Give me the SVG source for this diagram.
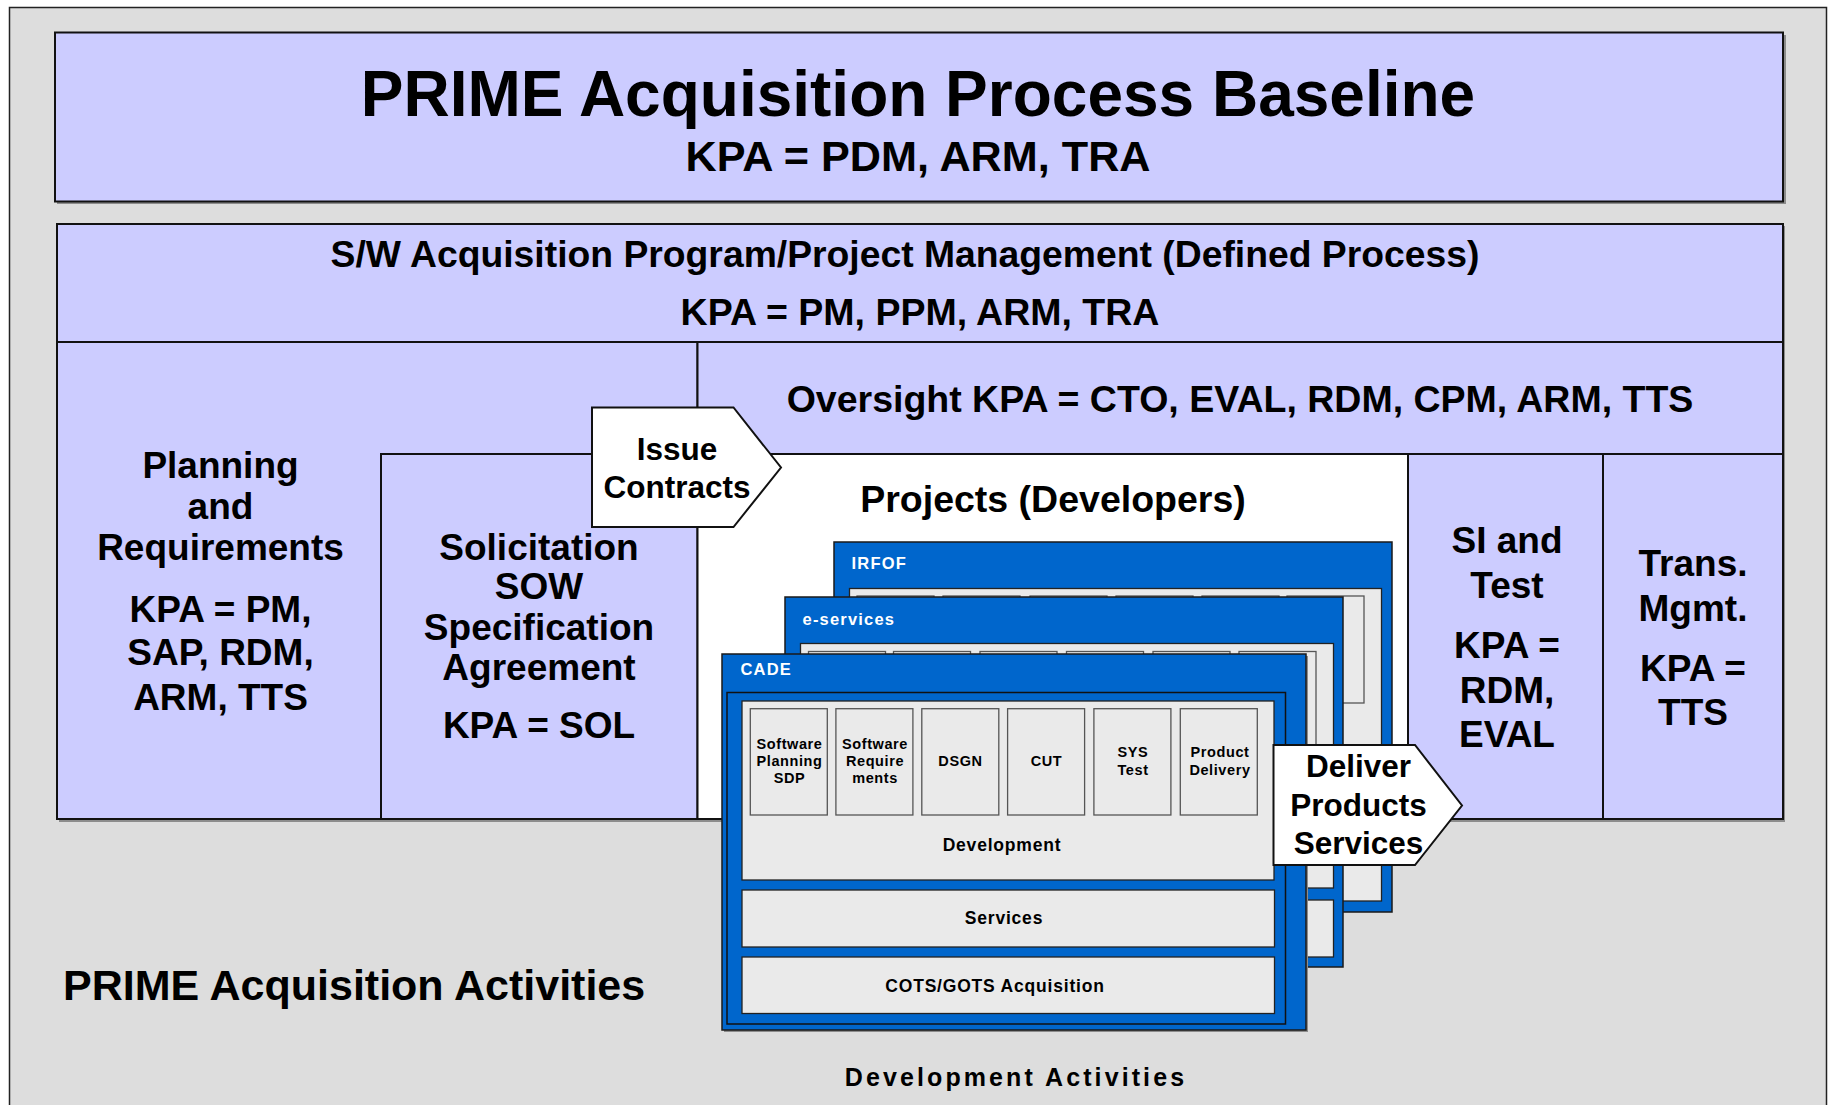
<svg xmlns="http://www.w3.org/2000/svg" width="1829" height="1105" viewBox="0 0 1829 1105">
  <style>
    text { font-family: "Liberation Sans", Arial, sans-serif; font-weight: bold; fill: #000; }
    .mid { text-anchor: middle; }
    .lav { fill: #CCCCFF; stroke: #111; stroke-width: 2; }
    .line { fill: none; stroke: #111; stroke-width: 2; }
    .shadow { fill: #8c8c8c; }
    .panel { fill: #0066CC; stroke: #1a1a1a; stroke-width: 1.5; }
    .well { fill: #0066CC; stroke: #111; stroke-width: 1.5; }
    .gray { fill: #EAEAEA; stroke: #222; stroke-width: 1.3; }
    .sub { fill: #EAEAEA; stroke: #555; stroke-width: 1.3; }
    .plab { fill: #FFFFFF; font-size: 16.5px; letter-spacing: 1.2px; }
    .slab { font-size: 14.5px; letter-spacing: 0.6px; text-anchor: middle; }
    .blab { font-size: 17.5px; letter-spacing: 0.8px; text-anchor: middle; }
    .col { font-size: 37px; text-anchor: middle; }
    .flow { fill: #FFFFFF; stroke: #111; stroke-width: 2; }
    .flowtxt { font-size: 31.5px; text-anchor: middle; }
  </style>

  <!-- background frame -->
  <g id="frame">
    <rect x="9.5" y="7.5" width="1817" height="1110" fill="#DDDDDD" stroke="#222" stroke-width="1.5"/>
  </g>

  <!-- top baseline banner -->
  <g id="baseline">
    <rect class="shadow" x="57" y="35" width="1729" height="169"/>
    <rect class="lav" x="55" y="32.5" width="1728" height="169"/>
    <text class="mid" x="918" y="116" font-size="64">PRIME Acquisition Process Baseline</text>
    <text class="mid" x="918" y="171" font-size="43.2">KPA = PDM, ARM, TRA</text>
  </g>

  <!-- program management header -->
  <g id="program-mgmt">
    <rect class="shadow" x="59" y="226" width="1726" height="596"/>
    <rect class="lav" x="57" y="224" width="1726" height="118"/>
    <text class="mid" x="905" y="267" font-size="37.3">S/W Acquisition Program/Project Management (Defined Process)</text>
    <text class="mid" x="920" y="325" font-size="37.5">KPA = PM, PPM, ARM, TRA</text>
  </g>

  <!-- planning and requirements -->
  <g id="planning">
    <rect class="lav" x="57" y="342" width="640.5" height="477"/>
    <text class="col" x="220.5" y="478">Planning</text>
    <text class="col" x="220.5" y="519">and</text>
    <text class="col" x="220.5" y="560">Requirements</text>
    <text class="col" x="220.5" y="622">KPA = PM,</text>
    <text class="col" x="220.5" y="665">SAP, RDM,</text>
    <text class="col" x="220.5" y="710">ARM, TTS</text>
  </g>

  <!-- solicitation -->
  <g id="solicitation">
    <rect class="lav" x="381" y="454" width="316.5" height="365"/>
    <text class="col" x="539" y="560">Solicitation</text>
    <text class="col" x="539" y="599">SOW</text>
    <text class="col" x="539" y="640">Specification</text>
    <text class="col" x="539" y="680">Agreement</text>
    <text class="col" x="539" y="738">KPA = SOL</text>
  </g>

  <!-- oversight -->
  <g id="oversight">
    <rect class="lav" x="697.5" y="342" width="1085.5" height="112"/>
    <text class="mid" x="1240" y="412" font-size="37.5">Oversight KPA = CTO, EVAL, RDM, CPM, ARM, TTS</text>
  </g>

  <!-- projects area -->
  <g id="projects">
    <rect x="697.5" y="454" width="710.5" height="365" fill="#FFFFFF" stroke="#111" stroke-width="2"/>
    <text class="mid" x="1053" y="512" font-size="37.5">Projects (Developers)</text>
  </g>

  <!-- SI and test -->
  <g id="si-test">
    <rect class="lav" x="1408" y="454" width="195" height="365"/>
    <text class="col" x="1507" y="553">SI and</text>
    <text class="col" x="1507" y="598">Test</text>
    <text class="col" x="1507" y="658">KPA =</text>
    <text class="col" x="1507" y="703">RDM,</text>
    <text class="col" x="1507" y="747">EVAL</text>
  </g>

  <!-- transition management -->
  <g id="trans-mgmt">
    <rect class="lav" x="1603" y="454" width="180" height="365"/>
    <text class="col" x="1693" y="576">Trans.</text>
    <text class="col" x="1693" y="621">Mgmt.</text>
    <text class="col" x="1693" y="681">KPA =</text>
    <text class="col" x="1693" y="725">TTS</text>
  </g>

  <!-- project stack: IRFOF (back) -->
  <g id="irfof">
    <rect class="panel" x="834" y="542" width="558" height="370"/>
    <text class="plab" x="851.5" y="569">IRFOF</text>
    <rect class="gray" x="849.5" y="588.5" width="532" height="312.5"/>
    <rect class="sub" x="857" y="596" width="77" height="107"/>
    <rect class="sub" x="943" y="596" width="77" height="107"/>
    <rect class="sub" x="1030" y="596" width="77" height="107"/>
    <rect class="sub" x="1116" y="596" width="77" height="107"/>
    <rect class="sub" x="1202" y="596" width="77" height="107"/>
    <rect class="sub" x="1287" y="596" width="77" height="107"/>
  </g>

  <!-- project stack: e-services (middle) -->
  <g id="e-services">
    <rect class="panel" x="785" y="597" width="558" height="370"/>
    <text class="plab" x="802.5" y="625">e-services</text>
    <rect class="gray" x="800.5" y="643.5" width="533" height="244.5"/>
    <rect class="sub" x="808.5" y="651.5" width="77" height="150"/>
    <rect class="sub" x="893.5" y="651.5" width="77" height="150"/>
    <rect class="sub" x="980" y="651.5" width="77" height="150"/>
    <rect class="sub" x="1066.5" y="651.5" width="77" height="150"/>
    <rect class="sub" x="1153" y="651.5" width="77" height="150"/>
    <rect class="sub" x="1239" y="651.5" width="77" height="150"/>
    <rect class="gray" x="800.5" y="900" width="533" height="57"/>
  </g>

  <!-- project stack: CADE (front) -->
  <g id="cade">
    <rect class="shadow" x="724" y="656" width="584" height="376"/>
    <rect class="panel" x="722" y="654" width="584" height="376"/>
    <text class="plab" x="740.5" y="675">CADE</text>
    <rect class="well" x="727" y="692.5" width="558.5" height="331.5"/>
    <rect class="gray" x="742" y="701" width="532" height="179"/>
    <rect class="sub" x="750.3" y="708.7" width="77" height="106.3"/>
    <rect class="sub" x="835.9" y="708.7" width="77" height="106.3"/>
    <rect class="sub" x="921.8" y="708.7" width="77" height="106.3"/>
    <rect class="sub" x="1007.6" y="708.7" width="77" height="106.3"/>
    <rect class="sub" x="1093.9" y="708.7" width="77" height="106.3"/>
    <rect class="sub" x="1180.3" y="708.7" width="77" height="106.3"/>
    <text class="slab" x="789.5" y="749.3">Software</text>
    <text class="slab" x="789.5" y="766">Planning</text>
    <text class="slab" x="789.5" y="782.7">SDP</text>
    <text class="slab" x="875" y="749.3">Software</text>
    <text class="slab" x="875" y="766">Require</text>
    <text class="slab" x="875" y="782.7">ments</text>
    <text class="slab" x="960.5" y="766">DSGN</text>
    <text class="slab" x="1046.5" y="766">CUT</text>
    <text class="slab" x="1133" y="757.3">SYS</text>
    <text class="slab" x="1133" y="774.7">Test</text>
    <text class="slab" x="1220" y="757.3">Product</text>
    <text class="slab" x="1220" y="774.7">Delivery</text>
    <text class="blab" x="1002" y="851">Development</text>
    <rect class="gray" x="742" y="890" width="532.5" height="57"/>
    <text class="blab" x="1004" y="924">Services</text>
    <rect class="gray" x="742" y="957" width="532.5" height="56.5"/>
    <text class="blab" x="995" y="992">COTS/GOTS Acquisition</text>
  </g>

  <!-- hand-off arrows between phases -->
  <g id="connectors">
    <g id="issue-contracts">
      <polygon class="flow" points="592,407.5 733.5,407.5 781,467.5 733.5,527 592,527"/>
      <text class="flowtxt" x="677" y="460">Issue</text>
      <text class="flowtxt" x="677" y="498">Contracts</text>
    </g>
    <g id="deliver-products">
      <polygon class="flow" points="1273.5,745 1415,745 1462,805.5 1415,865 1273.5,865"/>
      <text class="flowtxt" x="1358.5" y="777">Deliver</text>
      <text class="flowtxt" x="1358.5" y="816">Products</text>
      <text class="flowtxt" x="1358.5" y="854">Services</text>
    </g>
  </g>

  <!-- captions -->
  <g id="captions">
    <text x="63" y="1000" font-size="43">PRIME Acquisition Activities</text>
    <text class="mid" x="1016" y="1086" font-size="25" letter-spacing="3.1">Development Activities</text>
  </g>
</svg>
